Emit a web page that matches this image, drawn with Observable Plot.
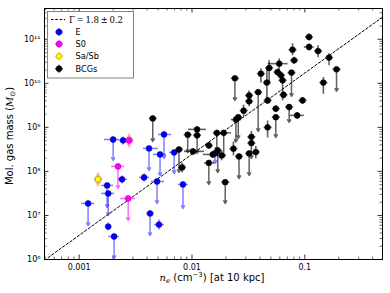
<!DOCTYPE html>
<html><head><meta charset="utf-8">
<script src="https://cdn.jsdelivr.net/npm/d3@7"></script>
<script src="https://cdn.jsdelivr.net/npm/@observablehq/plot@0.6"></script>
<style>body{margin:0;background:#fff}#chart{width:390px;height:293px}</style>
</head><body><div id="chart"></div>
<script>
// [n_e, Mgas, nLo, nHi, mLo, mHi, upperLimit]
const ePoints = [
  [0.00120, 1.87e7, 0.00104, 0.00136, 5.9e6, null, 1],
  [0.00177, 4.8e7, 0.00157, 0.00200, 1.52e7, null, 1],
  [0.00181, 3.16e7, 0.00157, 0.00204, 1.0e7, null, 1],
  [0.00181, 5.6e6, 0.00170, 0.00192, 4.6e6, 6.9e6, 0],
  [0.00204, 3.33e6, 0.00181, 0.00226, 1.05e6, null, 1],
  [0.00200, 5.3e8, 0.00166, 0.00226, 1.78e8, null, 1],
  [0.00245, 5.07e8, 0.00226, 0.00266, 4.1e8, 6.2e8, 0],
  [0.00240, 6.6e7, 0.00221, 0.00266, 5.3e7, 8.1e7, 0],
  [0.00376, 7.3e7, 0.00340, 0.00416, 5.9e7, 9.0e7, 0],
  [0.00490, 5.9e7, 0.00434, 0.00565, 1.87e7, null, 1],
  [0.00832, 5.07e7, 0.00752, 0.00922, 1.44e7, null, 1],
  [0.00425, 1.11e7, 0.00392, 0.00461, 3.5e6, null, 1],
  [0.00510, 6.2e6, 0.00461, 0.00565, 4.8e6, 8.1e6, 0],
  [0.00416, 3.33e8, 0.00368, 0.00500, 1.05e8, null, 1],
  [0.00521, 2.43e8, 0.00452, 0.00589, 8.1e7, null, 1],
  [0.00565, 6.9e8, 0.00500, 0.00652, 1.97e8, null, 1],
  [0.00694, 2.7e8, 0.00626, 0.00767, 9.0e7, null, 1],
  [0.0160, 2.56e8, 0.0147, 0.0173, 1.52e8, null, 1]
];
const s0Points = [
  [0.00277, 5.07e8, 0.00255, 0.00301, 4.1e8, 6.2e8, 0],
  [0.00221, 1.3e8, 0.00192, 0.00250, 4.1e7, null, 1],
  [0.00272, 2.43e7, 0.00231, 0.00313, 7.7e6, null, 1]
];
const sabPoints = [
  [0.00147, 6.6e7, 0.00136, 0.00160, 5.3e7, 8.1e7, 0]
];
const bcgPoints = [
  [0.00449, 1.6e9, null, null, 4.8e8, null, 1],
  [0.00767, 3.16e8, null, null, 9.5e7, null, 1],
  [0.00817, 1.23e8, null, null, 9.5e7, 1.6e8, 0],
  [0.0102, 2.85e8, 0.00850, 0.0128, null, null, 0],
  [0.00916, 6.8e8, null, null, 2.7e8, null, 1],
  [0.0111, 9.0e8, 0.00922, 0.0133, 2.56e8, null, 1],
  [0.0111, 6.6e8, null, null, null, null, 0],
  [0.0141, 3.9e8, null, null, null, null, 0],
  [0.0141, 1.56e8, 0.0128, 0.0157, 5.07e7, null, 1],
  [0.0153, 2.43e8, 0.0125, 0.0170, null, null, 0],
  [0.0169, 3.0e8, null, null, 9.5e7, null, 1],
  [0.0183, 2.31e8, null, null, 1.78e8, 3.0e8, 0],
  [0.0197, 5.7e7, null, null, 1.87e7, null, 1],
  [0.0166, 7.5e8, null, null, 3.0e8, null, 1],
  [0.0191, 7.5e8, 0.0163, 0.0221, 2.08e8, null, 1],
  [0.0233, 3.28e8, null, null, 2.31e8, 4.8e8, 0],
  [0.0261, 2.19e8, null, null, 6.9e7, null, 1],
  [0.0321, 2.56e8, null, null, 8.1e7, null, 1],
  [0.0368, 2.75e8, null, null, 2.0e8, 3.76e8, 0],
  [0.0336, 6.1e8, null, null, 4.4e8, 8.3e8, 0],
  [0.0336, 4.4e8, null, null, 1.97e8, null, 1],
  [0.0240, 1.3e10, null, null, 4.1e9, null, 1],
  [0.0245, 1.5e9, 0.0221, 0.0272, 4.6e8, null, 1],
  [0.0257, 1.7e9, null, null, 5.6e8, null, 1],
  [0.0287, 2.4e9, null, null, 1.75e9, 3.28e9, 0],
  [0.0321, 5.3e9, null, null, 4.1e9, 6.9e9, 0],
  [0.0321, 3.9e9, null, null, 3.0e9, 5.1e9, 0],
  [0.0386, 6.3e9, null, null, 8.1e8, null, 1],
  [0.0408, 1.66e10, null, null, 1.05e10, 2.19e10, 0],
  [0.0461, 1.04e10, null, null, 3.5e9, 2.31e10, 0],
  [0.0483, 2.23e10, null, null, 1.0e10, 3.33e10, 0],
  [0.0593, 2.8e10, 0.0468, 0.0703, 1.78e10, 3.7e10, 0],
  [0.0573, 1.8e10, null, null, null, null, 0],
  [0.0614, 1.52e10, null, null, null, null, 0],
  [0.0635, 1.17e10, null, null, 4.1e9, 1.52e10, 0],
  [0.0762, 1.75e10, null, null, 5.07e9, null, 1],
  [0.0647, 5.5e9, null, null, null, null, 0],
  [0.0468, 4.1e9, null, null, null, null, 0],
  [0.0468, 1.0e9, null, null, 5.9e8, 1.44e9, 0],
  [0.0553, 2.66e9, null, null, null, null, 0],
  [0.0553, 1.7e9, null, null, 5.9e8, null, 1],
  [0.0726, 2.9e9, null, null, 1.3e9, null, 1],
  [0.0855, 1.87e9, 0.0736, 0.0980, null, null, 0],
  [0.0955, 4.1e9, null, null, null, null, 0],
  [0.0778, 5.8e10, null, null, 4.33e10, 8.1e10, 0],
  [0.0804, 3.33e10, null, null, null, null, 0],
  [0.109, 1.13e11, null, null, null, null, 0],
  [0.109, 6.7e10, 0.098, 0.120, null, null, 0],
  [0.131, 5.4e10, null, null, 3.9e10, 7.3e10, 0],
  [0.164, 3.84e10, null, null, 2.56e10, 4.8e10, 0],
  [0.191, 2.08e10, null, null, 6.6e9, null, 1],
  [0.146, 1.04e10, null, null, 5.8e9, 1.39e10, 0]
];
const fitN = [0.00053, 0.49];
const fitM = [1.1e6, 3.2e11];
const xTicks = [0.001, 0.01, 0.1];
const xTickLabels = ["0.001", "0.01", "0.1"];
const yTicks = [1e6, 1e7, 1e8, 1e9, 1e10, 1e11];
const yTickLabels = ["10⁶", "10⁷", "10⁸", "10⁹", "10¹⁰", "10¹¹"];
const legendLabels = ["E", "S0", "Sa/Sb", "BCGs"];
const fitLabel = "Γ = 1.8 ± 0.2";

const W = 390, H = 293, mL = 44, mR = 8, mT = 8, mB = 34;
const innerW = W - mL - mR, innerH = H - mT - mB;
const xDomain = [0.000493, 0.488], yDomain = [1e6, 5e11];

function rows(pts) {
  return pts.map(([n, M, nLo, nHi, mLo, mHi, lim]) => ({
    n, M, nLo: nLo ?? n / 1.085, nHi: nHi ?? n * 1.085,
    mLo: mLo ?? M / 1.2, mHi: mHi ?? M * 1.2, lim: !!lim
  }));
}
const groups = [
  {data: rows(ePoints), fill: "#0000ff", edge: "#00008b", bar: "#0000ff", op: 0.5},
  {data: rows(s0Points), fill: "#ff00ff", edge: "#a000a0", bar: "#ff00ff", op: 0.6},
  {data: rows(sabPoints), fill: "#ffff00", edge: "#c08000", bar: "#e0c000", op: 0.6},
  {data: rows(bcgPoints), fill: "#000000", edge: "#000000", bar: "#000000", op: 0.62}
];
const halo = [rows(s0Points)[0], rows(sabPoints)[0]];

function minors(lo, hi) {
  const out = [];
  for (let e = Math.floor(Math.log10(lo)); e <= Math.ceil(Math.log10(hi)); e++)
    for (let k = 2; k <= 9; k++) { const v = k * Math.pow(10, e); if (v >= lo && v <= hi) out.push(v); }
  return out;
}
const xMajor = [0.001, 0.01, 0.1], yMajor = yTicks;
const xMinor = minors(xDomain[0], xDomain[1]), yMinor = minors(yDomain[0], yDomain[1]);

const marks = [];
const fitRows = fitN.map((n, i) => ({n, M: fitM[i]}));
marks.push(Plot.line(fitRows, {x: "n", y: "M", stroke: "#000", strokeWidth: 1, strokeDasharray: "2.5,2"}));
marks.push(Plot.dot(halo, {x: "n", y: "M", symbol: "diamond", r: 4.6, fill: "#f0a878", fillOpacity: 0.8}));
for (const g of groups) {
  marks.push(Plot.link(g.data, {x1: "nLo", x2: "nHi", y1: "M", y2: "M", stroke: g.bar, strokeOpacity: g.op, strokeWidth: 1.6}));
  marks.push(Plot.link(g.data.filter(d => !d.lim), {x1: "n", x2: "n", y1: "mLo", y2: "mHi", stroke: g.bar, strokeOpacity: g.op, strokeWidth: 1.6}));
  marks.push(Plot.arrow(g.data.filter(d => d.lim), {x1: "n", x2: "n", y1: "M", y2: "mLo", stroke: g.bar, strokeOpacity: g.op, strokeWidth: 1.5, headLength: 3}));
  marks.push(Plot.dot(g.data, {x: "n", y: "M", r: 2.9, fill: g.fill, stroke: g.edge, strokeWidth: 0.6}));
}
// ticks (inward, all sides)
marks.push(Plot.tickX(xMajor, {x: d => d, insetTop: innerH - 4.5, stroke: "#000", strokeWidth: 0.8}));
marks.push(Plot.tickX(xMajor, {x: d => d, insetBottom: innerH - 4.5, stroke: "#000", strokeWidth: 0.8}));
marks.push(Plot.tickX(xMinor, {x: d => d, insetTop: innerH - 2.5, stroke: "#000", strokeWidth: 0.6}));
marks.push(Plot.tickX(xMinor, {x: d => d, insetBottom: innerH - 2.5, stroke: "#000", strokeWidth: 0.6}));
marks.push(Plot.tickY(yMajor, {y: d => d, insetRight: innerW - 4.5, stroke: "#000", strokeWidth: 0.8}));
marks.push(Plot.tickY(yMajor, {y: d => d, insetLeft: innerW - 4.5, stroke: "#000", strokeWidth: 0.8}));
marks.push(Plot.tickY(yMinor, {y: d => d, insetRight: innerW - 2.5, stroke: "#000", strokeWidth: 0.6}));
marks.push(Plot.tickY(yMinor, {y: d => d, insetLeft: innerW - 2.5, stroke: "#000", strokeWidth: 0.6}));
marks.push(Plot.axisX({ticks: xTicks, tickSize: 0, tickPadding: 5, tickFormat: d => xTickLabels[xTicks.indexOf(d)], label: null, fontSize: 8}));
marks.push(Plot.axisY({ticks: yTicks, tickSize: 0, tickPadding: 4, tickFormat: d => yTickLabels[yTicks.indexOf(d)], label: null, fontSize: 8}));
marks.push(Plot.frame({stroke: "#000", strokeWidth: 1}));

const svgPlot = Plot.plot({
  width: W, height: H, marginLeft: mL, marginRight: mR, marginTop: mT, marginBottom: mB,
  style: {fontFamily: "DejaVu Sans", fontSize: "8px", background: "#fff", color: "#000"},
  x: {type: "log", domain: xDomain},
  y: {type: "log", domain: yDomain},
  marks
});
document.getElementById("chart").appendChild(svgPlot);

const svg = d3.select(svgPlot);
// axis labels
const xl = svg.append("text").attr("x", 212).attr("y", 281).attr("text-anchor", "middle")
  .attr("font-family", "DejaVu Sans").attr("font-size", 10).attr("fill", "#000");
xl.append("tspan").attr("font-family", "DejaVu Serif").attr("font-style", "italic").text("n");
xl.append("tspan").attr("font-family", "DejaVu Serif").attr("font-style", "italic").attr("font-size", 7).attr("dy", 2).text("e");
xl.append("tspan").attr("dy", -2).text(" (cm");
xl.append("tspan").attr("font-size", 7).attr("dy", -4).text("−3");
xl.append("tspan").attr("dy", 4).text(") [at 10 kpc]");

const yl = svg.append("text").attr("transform", "translate(13,136) rotate(-90)").attr("text-anchor", "middle")
  .attr("font-family", "DejaVu Sans").attr("font-size", 10).attr("fill", "#000");
yl.append("tspan").text("Mol. gas mass (");
yl.append("tspan").attr("font-family", "DejaVu Serif").attr("font-style", "italic").text("M");
yl.append("tspan").attr("font-size", 7).attr("dy", 2).text("⊙");
yl.append("tspan").attr("dy", -2).text(")");

// legend
const lg = svg.append("g");
lg.append("rect").attr("x", 47.5).attr("y", 11.5).attr("width", 86).attr("height", 66.5)
  .style("fill", "#fff").style("stroke", "#777").style("stroke-width", "0.9px");
lg.append("line").attr("x1", 51).attr("x2", 65).attr("y1", 19.5).attr("y2", 19.5)
  .style("stroke", "#000").style("stroke-dasharray", "2.5,1.8");
lg.append("text").attr("x", 69).attr("y", 22.5).attr("text-anchor", "start").attr("font-family", "DejaVu Serif").attr("font-size", 8.5)
  .attr("fill", "#000").style("word-spacing", "-1px").text(fitLabel);
const rowY = [32, 44, 56.3, 68.7];
legendLabels.forEach((lab, i) => {
  const y = rowY[i], g = groups[i];
  lg.append("line").attr("x1", 55).attr("x2", 63).attr("y1", y).attr("y2", y).style("stroke", g.bar).style("stroke-opacity", g.op).style("stroke-width", "1.6px");
  lg.append("line").attr("x1", 59).attr("x2", 59).attr("y1", y - 4).attr("y2", y + 4).style("stroke", g.bar).style("stroke-opacity", g.op).style("stroke-width", "1.6px");
  lg.append("circle").attr("cx", 59).attr("cy", y).attr("r", 2.9).style("fill", g.fill).style("stroke", g.edge).style("stroke-width", "0.6px");
  lg.append("text").attr("x", 75.5).attr("y", y + 3).attr("text-anchor", "start").attr("font-family", "DejaVu Sans").attr("font-size", 8.2).attr("fill", "#000").text(lab);
});
</script></body></html>
